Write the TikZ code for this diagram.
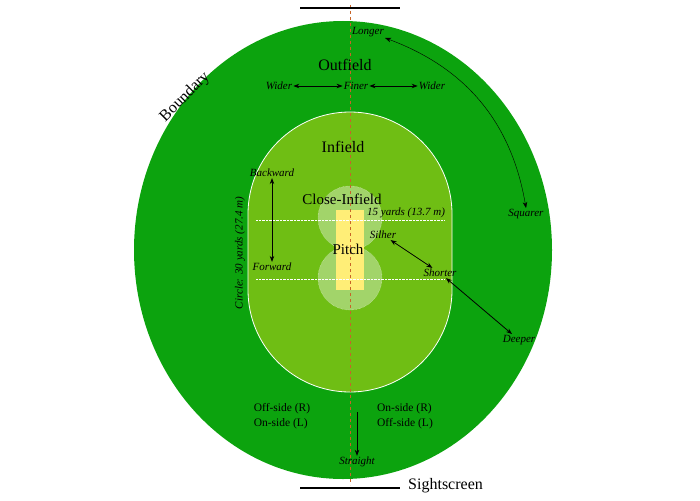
\documentclass[tikz,border=0pt]{standalone}
\usepackage{fontspec}
\setmainfont{Liberation Serif}
\usetikzlibrary{arrows.meta}
\definecolor{outfield}{HTML}{0CA30E}
\definecolor{infield}{HTML}{6FBE14}
\definecolor{closein}{HTML}{A2D46A}
\definecolor{pitchc}{HTML}{FFEE77}
\definecolor{midline}{HTML}{C86428}
\begin{document}
\begin{tikzpicture}
	[x=1pt,y=-1pt,
		dir/.style		={font=\itshape\fontsize{11}{13}\selectfont, inner sep=1pt},
		area/.style		={font=\fontsize{16}{18}\selectfont, inner sep=1pt},
		side/.style		={font=\fontsize{11.5}{15}\selectfont, align=left, inner sep=1pt},
		line/.style		={draw, thick, {Stealth[length=6pt]}-{Stealth[length=6pt]}},
		screen/.style	={draw, line width=2pt}
	]
\useasboundingbox (0,0) rectangle (700,500);
% field
\fill [outfield] (343,250) ellipse [x radius=209, y radius=229];
\draw [white, thick, fill=infield] (248,214) arc [start angle=180, end angle=360, radius=102]
	-- (452,290) arc [start angle=0, end angle=180, radius=102] -- cycle;
\draw [white!80!infield, densely dotted, fill=closein] (350,218) circle [radius=32];
\draw [white!80!infield, densely dotted, fill=closein] (350,278) circle [radius=32];
\fill [pitchc] (336,210) rectangle (364,290);
\draw [white, densely dotted] (256,220) -- (444,220);
\draw [white, densely dotted] (256,279) -- (444,279);
\draw [midline, dashed, thin] (350,5) -- (350,485);
\draw [screen] (300,8) -- (400,8);
\draw [screen] (300,488) -- (400,488);
% labels
\node [area] (outfield lbl)	at (345,65)	{Outfield};
\node [area] (infield lbl)	at (343,147)	{Infield};
\node [area, font=\fontsize{15}{17}\selectfont] (close lbl) at (342,199) {Close-Infield};
\node [area, font=\fontsize{15}{17}\selectfont] (pitch lbl) at (348,249) {Pitch};
\node [area, rotate=45] (boundary)	at (185,97)	{Boundary};
\node [area, anchor=west] (sightscreen) at (407,486) {Sightscreen};
\node [dir] (longer)	at (368,32)	{Longer};
\node [dir] (finer)	at (356,86)	{Finer};
\node [dir] (wider l)	at (279,86)	{Wider};
\node [dir] (wider r)	at (432,86)	{Wider};
\node [dir] (squarer)	at (526,214)	{Squarer};
\node [dir] (backward)	at (272,173)	{Backward};
\node [dir] (forward)	at (272,267)	{Forward};
\node [dir, anchor=west] (yards) at (366,213) {15 yards (13.7 m)};
\node [dir] (silher)	at (383,235)	{Silher};
\node [dir] (shorter)	at (440,273)	{Shorter};
\node [dir] (deeper)	at (519,340)	{Deeper};
\node [dir] (straight)	at (357,462)	{Straight};
\node [dir, rotate=90] (circle lbl) at (240,253) {Circle: 30 yards (27.4 m)};
\node [side] (off r)	at (282,416)	{Off-side (R)\\On-side (L)};
\node [side] (on r)	at (405,416)	{On-side (R)\\Off-side (L)};
\coordinate (straight top) at (357,412);
% arrows
\path [line] (wider l) -- (finer);
\path [line] (finer) -- (wider r);
\path [line] (backward) -- (forward);
\path [line] (silher) -- (shorter);
\path [line] (shorter) -- (deeper);
\path [line, -{Stealth[length=6pt]}] (straight top) -- (straight);
\path [line, thin] (longer.south east) to [bend left=30] (squarer.north);
\end{tikzpicture}
\end{document}
